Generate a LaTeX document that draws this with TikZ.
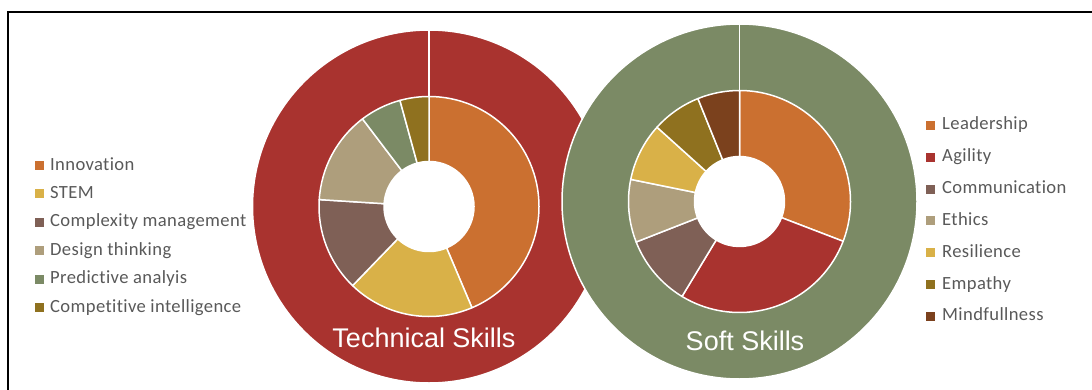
\documentclass[tikz,border=0pt]{standalone}
\usepackage{fontspec}
\setmainfont{Carlito}[Ligatures=NoCommon]
\newfontfamily\arialf{Liberation Sans}
\definecolor{cRed}{HTML}{A9332F}
\definecolor{cOrange}{HTML}{CB7030}
\definecolor{cYellow}{HTML}{D9B148}
\definecolor{cTaupe}{HTML}{7F6056}
\definecolor{cTan}{HTML}{AE9E7C}
\definecolor{cGreen}{HTML}{7B8A65}
\definecolor{cOlive}{HTML}{8F711F}
\definecolor{cDark}{HTML}{7B411D}
\definecolor{cText}{HTML}{595959}
\tikzset{
  seg/.style={fill=#1, draw=white, line width=1.5pt, line join=round},
  legtext/.style={anchor=base west, inner sep=0pt, text=cText, font=\addfontfeatures{LetterSpace=2}\fontsize{18.6}{20}\selectfont},
  legsq/.style={fill=#1, minimum size=9pt, inner sep=0pt, anchor=center},
  title/.style={anchor=base, inner sep=0pt, text=white, font=\arialf\fontsize{27}{30}\selectfont}
}
% annular sector: center, start angle, end angle, inner r, outer r, colour
\newcommand{\ringseg}[6]{%
  \path[seg=#6, shift={#1}] (#2:#5) arc[start angle=#2, end angle=#3, radius=#5]
     -- (#3:#4) arc[start angle=#3, end angle=#2, radius=#4] -- cycle;}
\begin{document}
\begin{tikzpicture}[x=1pt,y=1pt]
\useasboundingbox (0,0) rectangle (1092,389);
\begin{scope}
\clip (0,0) rectangle (1092,389);
\draw[line width=2pt] (8,-20) -- (8,377) -- (1120,377);
\end{scope}
% ---- Technical skills
\coordinate (tc) at (429,182.5);
\path[fill=cRed, draw=white, line width=1.5pt] (tc) circle[radius=176.5];
\draw[white, line width=1.5pt] ([yshift=110pt]tc) -- ([yshift=176.5pt]tc);
\ringseg{(tc)}{90}{-67}{45}{110}{cOrange}
\ringseg{(tc)}{-67}{-134}{45}{110}{cYellow}
\ringseg{(tc)}{-134}{-183.6}{45}{110}{cTaupe}
\ringseg{(tc)}{-183.6}{-232.8}{45}{110}{cTan}
\ringseg{(tc)}{-232.8}{-254.7}{45}{110}{cGreen}
\ringseg{(tc)}{-254.7}{-270}{45}{110}{cOlive}
\fill[white] (tc) circle[radius=45];
\node[title] (tt) at (424,42) {Technical Skills};
% ---- Soft skills
\coordinate (sc) at (739.5,187.5);
\path[fill=cGreen, draw=white, line width=1.5pt] (sc) circle[radius=177.5];
\draw[white, line width=1.5pt] ([yshift=111pt]sc) -- ([yshift=177.5pt]sc);
\ringseg{(sc)}{90}{-21}{45}{111}{cOrange}
\ringseg{(sc)}{-21}{-121.2}{45}{111}{cRed}
\ringseg{(sc)}{-121.2}{-158.6}{45}{111}{cTaupe}
\ringseg{(sc)}{-158.6}{-191.5}{45}{111}{cTan}
\ringseg{(sc)}{-191.5}{-222}{45}{111}{cYellow}
\ringseg{(sc)}{-222}{-248}{45}{111}{cOlive}
\ringseg{(sc)}{-248}{-270}{45}{111}{cDark}
\fill[white] (sc) circle[radius=45];
\node[title] (st) at (745,39) {Soft Skills};
% ---- left legend
\foreach \i/\c/\t in {0/cOrange/Innovation, 1/cYellow/STEM, 2/cTaupe/Complexity management, 3/cTan/Design thinking, 4/cGreen/Predictive analyis, 5/cOlive/Competitive intelligence}{
  \node[legsq=\c] (lq\i) at (39.5,{389-165.5-28.4*\i}) {};
  \node[legtext] (lt\i) at (50,{389-170-28.4*\i}) {\t};
}
% ---- right legend
\foreach \i/\c/\t in {0/cOrange/Leadership, 1/cRed/Agility, 2/cTaupe/Communication, 3/cTan/Ethics, 4/cYellow/Resilience, 5/cOlive/Empathy, 6/cDark/Mindfullness}{
  \node[legsq=\c] (rq\i) at (930.5,{389-125.5-31.8*\i}) {};
  \node[legtext] (rt\i) at (942,{389-130-31.8*\i}) {\t};
}
\end{tikzpicture}
\end{document}
